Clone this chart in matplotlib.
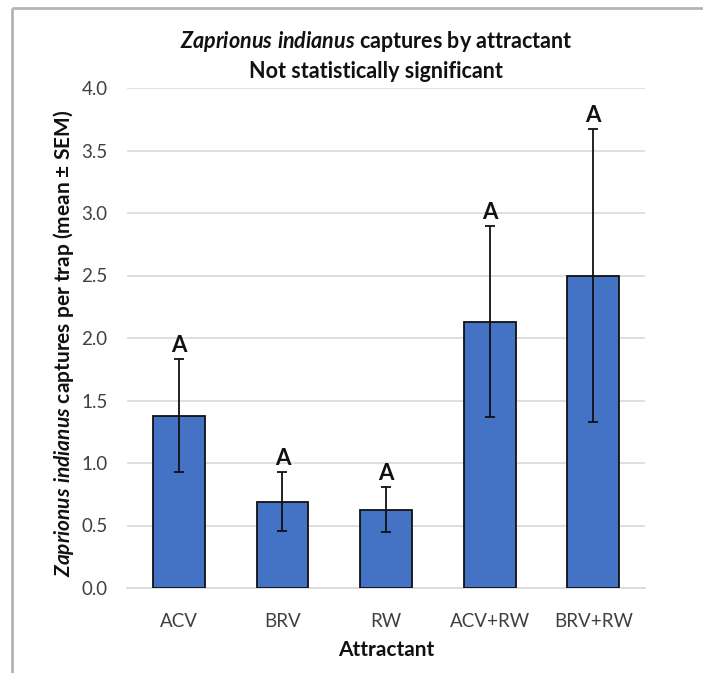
import matplotlib
matplotlib.use("Agg")
import matplotlib.pyplot as plt
from matplotlib.lines import Line2D

plt.rcParams["font.family"] = ["Lato", "DejaVu Sans"]
plt.rcParams["mathtext.fontset"] = "custom"
plt.rcParams["mathtext.rm"] = "Lato"
plt.rcParams["mathtext.it"] = "Lato:italic"
plt.rcParams["mathtext.bf"] = "Lato:bold"
plt.rcParams["mathtext.bfit"] = "Lato:bold:italic"

# Mean captures per trap and SEM for each attractant
attractants = ["ACV", "BRV", "RW", "ACV+RW", "BRV+RW"]
means = [1.38, 0.69, 0.625, 2.13, 2.50]
sems = [0.45, 0.235, 0.18, 0.765, 1.17]
letters = ["A", "A", "A", "A", "A"]
yticks = [0.0, 0.5, 1.0, 1.5, 2.0, 2.5, 3.0, 3.5, 4.0]

W, H = 703, 673
fig = plt.figure(figsize=(W / 100, H / 100), dpi=100)
ax = fig.add_axes([127 / W, 1 - 588 / H, (645 - 127) / W, (588 - 88) / H])

x = list(range(len(attractants)))
ax.bar(x, means, width=0.5, color="#4472C4", edgecolor="#111111",
       linewidth=1.3, zorder=3)
ax.errorbar(x, means, yerr=sems, fmt="none", ecolor="#111111",
            elinewidth=1.3, capsize=3.5, capthick=1.3, zorder=4)

for xi, m, s, lab in zip(x, means, sems, letters):
    ax.annotate(lab, (xi, m + s), xytext=(0, 2.5), textcoords="offset points",
                ha="center", va="bottom", fontsize=16, fontweight="bold",
                color="#111111")

ax.set_xlim(-0.5, len(attractants) - 0.5)
ax.set_ylim(0, 4.0)
ax.set_yticks(yticks)
ax.set_yticklabels([f"{t:.1f}" for t in yticks])
ax.set_xticks(x)
ax.set_xticklabels(attractants)
ax.tick_params(axis="both", length=0, labelsize=13.5, colors="#404040")
ax.tick_params(axis="y", pad=14)
ax.tick_params(axis="x", pad=18)
ax.yaxis.grid(True, color="#d9d9d9", linewidth=1.2, zorder=0)
ax.set_axisbelow(True)
for side in ["top", "right", "left"]:
    ax.spines[side].set_visible(False)
ax.spines["bottom"].set_color("#d9d9d9")
ax.spines["bottom"].set_linewidth(1.2)

ax.set_xlabel("Attractant", fontsize=15, fontweight="bold", color="#111111",
              labelpad=7)
fig.text(64 / W, 1 - 343 / H,
         r"$\mathbfit{Zaprionus\ indianus}$ captures per trap (mean ± SEM)",
         rotation=90, ha="center", va="center", fontsize=15,
         fontweight="bold", color="#111111")

fig.text(376 / W, 1 - 41 / H,
         r"$\mathbfit{Zaprionus\ indianus}$ captures by attractant",
         ha="center", va="center", fontsize=15.5, fontweight="bold",
         color="#111111")
fig.text(376 / W, 1 - 71 / H, "Not statistically significant",
         ha="center", va="center", fontsize=15.5, fontweight="bold",
         color="#111111")

# Outer frame lines along the top and left edges
fig.add_artist(Line2D([12 / W, 1.01], [1 - 8 / H, 1 - 8 / H],
                      transform=fig.transFigure, color="#b4b4b4",
                      linewidth=2, solid_capstyle="butt"))
fig.add_artist(Line2D([12 / W, 12 / W], [-0.01, 1 - 8 / H],
                      transform=fig.transFigure, color="#b4b4b4",
                      linewidth=2, solid_capstyle="butt"))

fig.savefig("out.png", dpi=100)
